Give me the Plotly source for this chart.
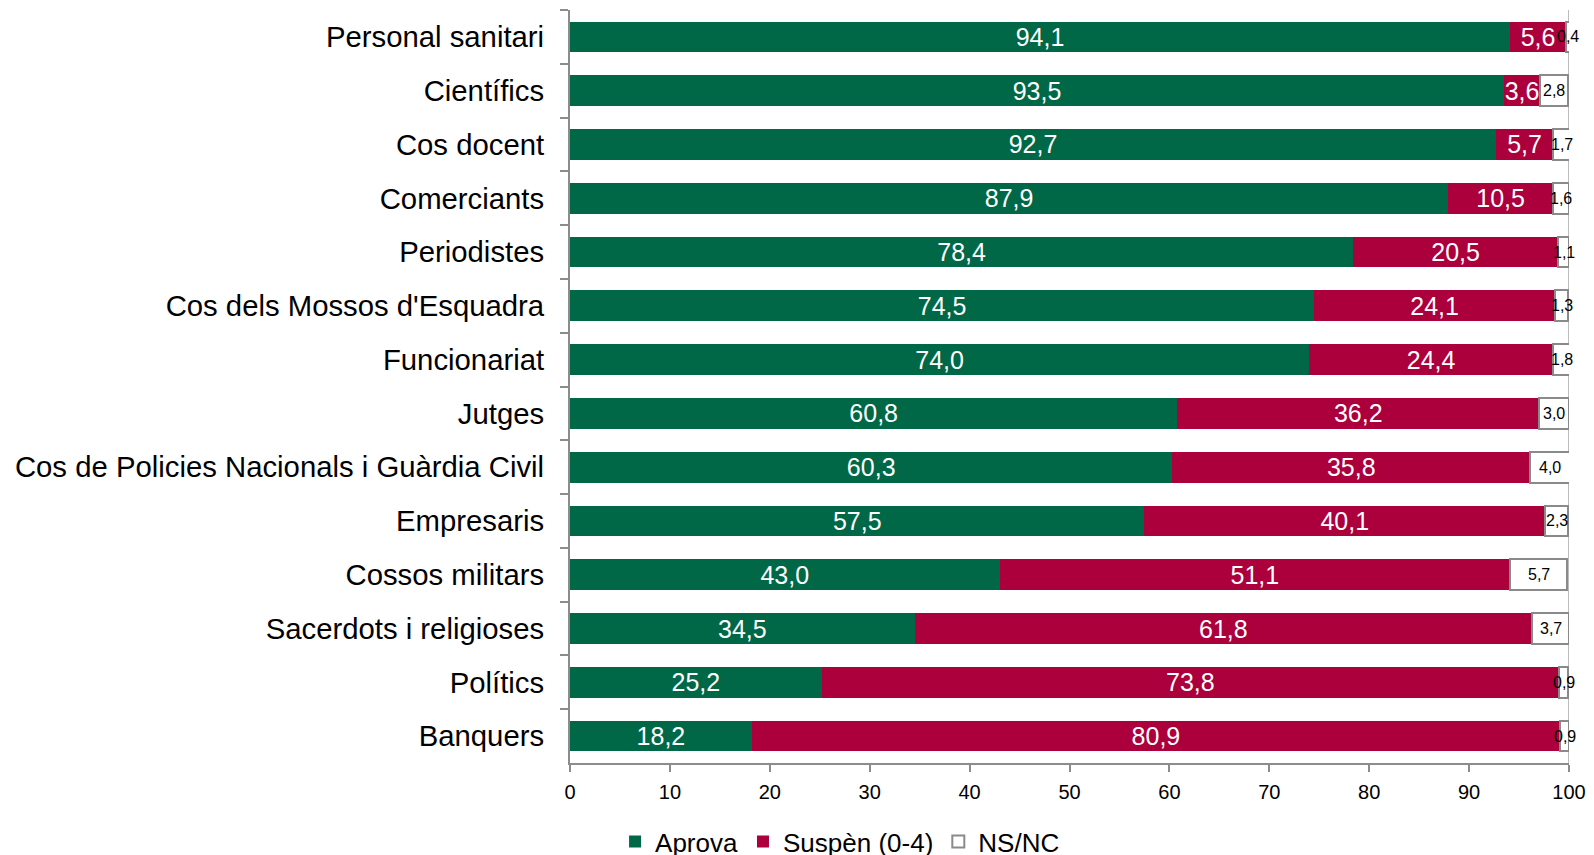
import plotly.graph_objects as go

# dades
categories = ["Personal sanitari", "Científics", "Cos docent", "Comerciants", "Periodistes",
              "Cos dels Mossos d'Esquadra", "Funcionariat", "Jutges",
              "Cos de Policies Nacionals i Guàrdia Civil", "Empresaris", "Cossos militars",
              "Sacerdots i religioses", "Polítics", "Banquers"]
aprova = [94.1, 93.5, 92.7, 87.9, 78.4, 74.5, 74.0, 60.8, 60.3, 57.5, 43.0, 34.5, 25.2, 18.2]
suspen = [5.6, 3.6, 5.7, 10.5, 20.5, 24.1, 24.4, 36.2, 35.8, 40.1, 51.1, 61.8, 73.8, 80.9]
nsnc = [0.4, 2.8, 1.7, 1.6, 1.1, 1.3, 1.8, 3.0, 4.0, 2.3, 5.7, 3.7, 0.9, 0.9]
x_ticks = [0, 10, 20, 30, 40, 50, 60, 70, 80, 90, 100]

font = "Liberation Sans, Arial, sans-serif"

fig = go.Figure()
fig.add_trace(go.Bar(y=categories, x=aprova, name="Aprova", orientation="h",
                     marker=dict(color="#006846", line=dict(width=0)),
                     texttemplate="%{x:.1f}", textposition="inside",
                     insidetextanchor="middle", constraintext="none", textangle=0,
                     textfont=dict(color="white", size=25, family=font)))
fig.add_trace(go.Bar(y=categories, x=suspen, name="Suspèn (0-4)", orientation="h",
                     marker=dict(color="#AB003C", line=dict(width=0)),
                     texttemplate="%{x:.1f}", textposition="inside",
                     insidetextanchor="middle", constraintext="none", textangle=0,
                     textfont=dict(color="white", size=25, family=font)))
fig.add_trace(go.Bar(y=categories, x=nsnc, name="NS/NC", orientation="h",
                     marker=dict(color="white", line=dict(width=2, color="#8A8A8A"))))

# etiquetes NS/NC (poden sortir de la barra)
for cat, a, s, n in zip(categories, aprova, suspen, nsnc):
    fig.add_annotation(x=a + s + n / 2, y=cat, xref="x", yref="y",
                       text=f"{n:.1f}".replace(".", ","), showarrow=False,
                       font=dict(color="black", size=16, family=font))

# línia vertical a 100
fig.add_shape(type="line", xref="x", yref="paper", x0=100, x1=100, y0=0, y1=1,
              line=dict(color="#BDBDBD", width=2), layer="below")

# la pàgina té un marge de 8 px; els marges ho compensen
fig.update_layout(
    width=1594, height=855,
    barmode="stack", bargap=0.43,
    separators=", ",
    plot_bgcolor="white", paper_bgcolor="white",
    margin=dict(l=562, r=33, t=2, b=100),
    font=dict(family=font, color="black"),
    uniformtext=dict(mode=False),
    xaxis=dict(range=[0, 100], tickvals=x_ticks, showgrid=False, zeroline=False,
               showline=True, linecolor="#8C8C8C", linewidth=2,
               ticks="outside", ticklen=7, tickcolor="#8C8C8C", tickwidth=2,
               ticklabelstandoff=3, tickfont=dict(size=20, family=font)),
    yaxis=dict(autorange="reversed", showgrid=False, showline=True,
               linecolor="#8C8C8C", linewidth=2, ticks="outside",
               tickson="boundaries", ticklen=8, tickcolor="#8C8C8C", tickwidth=2,
               ticklabelstandoff=18, tickfont=dict(size=29.3, family=font)),
    legend=dict(orientation="h", xref="container", yref="container",
                x=0.522, xanchor="center", y=0.025, yanchor="middle",
                font=dict(size=26, family=font), traceorder="normal",
                itemwidth=30),
)

fig.write_html("out.html")
